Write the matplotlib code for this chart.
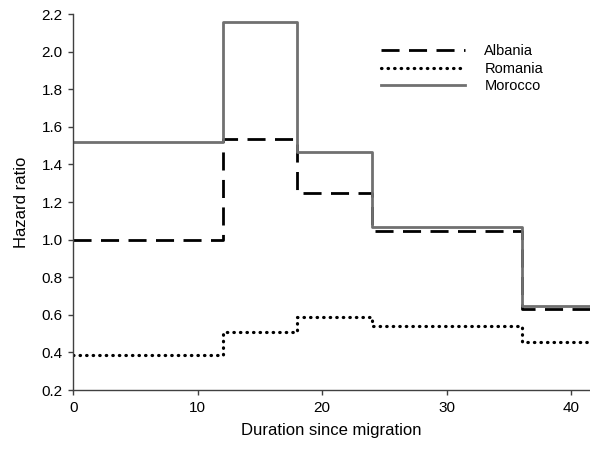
import matplotlib
matplotlib.use("Agg")
import matplotlib.pyplot as plt

plt.rcParams['font.family'] = ['Liberation Sans', 'DejaVu Sans']

breaks = [0, 12, 18, 24, 36, 42]
albania = [1.00, 1.535, 1.25, 1.045, 0.632]
romania = [0.384, 0.508, 0.59, 0.54, 0.455]
morocco = [1.518, 2.156, 1.464, 1.069, 0.647]
xticks = [0, 10, 20, 30, 40]
yticks = [0.2, 0.4, 0.6, 0.8, 1.0, 1.2, 1.4, 1.6, 1.8, 2.0, 2.2]

fig = plt.figure(figsize=(5.9, 4.53), dpi=100)
ax = fig.add_axes([0.124, 0.139, 0.876, 0.830])

def stepvals(v):
    return list(v) + [v[-1]]

ax.step(breaks, stepvals(albania), where='post', color='black', lw=2.0,
        dashes=(6.5, 3.4), label='Albania')
ax.step(breaks, stepvals(romania), where='post', color='black', lw=2.3,
        dashes=(0.15, 1.9), dash_capstyle='round', label='Romania')
ax.step(breaks, stepvals(morocco), where='post', color='#707070', lw=2.0,
        label='Morocco')

ax.set_xlim(0, 41.5)
ax.set_ylim(0.2, 2.2)
ax.set_xticks(xticks)
ax.set_yticks(yticks)
ax.set_yticklabels([f"{t:.1f}" for t in yticks])
for s in ['top', 'right']:
    ax.spines[s].set_visible(False)
for s in ['left', 'bottom']:
    ax.spines[s].set_color('#404040')
    ax.spines[s].set_linewidth(1.0)
ax.tick_params(direction='out', length=3.6, width=1, color='#404040',
               labelsize=11, pad=4)
ax.set_xlabel('Duration since migration', fontsize=12, labelpad=6)
ax.set_ylabel('Hazard ratio', fontsize=12, labelpad=9)

leg = ax.legend(loc='upper left', bbox_to_anchor=(0.57, 0.955), frameon=False,
                fontsize=10.5, handlelength=5.8, handletextpad=1.3,
                labelspacing=0.25)

fig.savefig('out.png', dpi=100)
